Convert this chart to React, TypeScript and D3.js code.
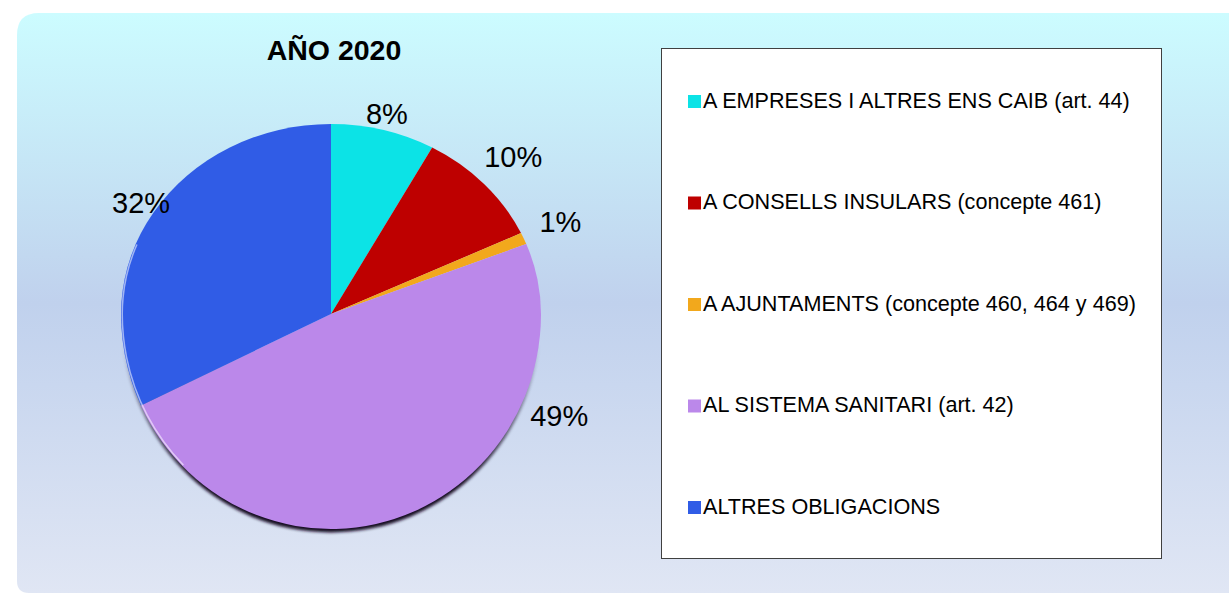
import React, { useRef, useEffect } from "react";
import * as d3 from "d3";

// chart data
const title = "AÑO 2020";
const categories = [
	"A EMPRESES I ALTRES ENS CAIB (art. 44)",
	"A CONSELLS INSULARS (concepte 461)",
	"A AJUNTAMENTS (concepte 460, 464 y 469)",
	"AL SISTEMA SANITARI (art. 42)",
	"ALTRES OBLIGACIONS",
];
const shares = [8, 10, 1, 49, 32];
const labels = ["8%", "10%", "1%", "49%", "32%"];
const colors = ["#0CE3E6", "#BE0000", "#F2A81C", "#BB88EA", "#305CE6"];

const W = 1229;
const H = 594;

const App = () => {
	const svgRef = useRef(null);

	useEffect(() => {
		document.body.style.margin = "0";
		const svg = d3.select(svgRef.current);
		svg.selectChildren().remove();
		const font = "'Liberation Sans', Arial, sans-serif";

		const defs = svg.append("defs");
		const bg = defs.append("linearGradient")
			.attr("id", "bg").attr("x1", 0).attr("y1", 0).attr("x2", 0).attr("y2", 1);
		bg.append("stop").attr("offset", "0%").attr("stop-color", "#CCFCFF");
		bg.append("stop").attr("offset", "50%").attr("stop-color", "#C0D1ED");
		bg.append("stop").attr("offset", "100%").attr("stop-color", "#E0E6F4");
		defs.append("filter").attr("id", "blur")
			.append("feGaussianBlur").attr("stdDeviation", 1.8);
		defs.append("clipPath").attr("id", "topHalf")
			.append("rect").attr("x", -300).attr("y", -300).attr("width", 600).attr("height", 300);
		defs.append("clipPath").attr("id", "botHalf")
			.append("rect").attr("x", -300).attr("y", 0).attr("width", 600).attr("height", 300);
		// fade the rim in towards the bottom of the pie
		const fade = defs.append("linearGradient")
			.attr("id", "fade").attr("gradientUnits", "userSpaceOnUse")
			.attr("x1", 0).attr("y1", 30).attr("x2", 0).attr("y2", 170);
		fade.append("stop").attr("offset", "0%").attr("stop-color", "#fff").attr("stop-opacity", 0);
		fade.append("stop").attr("offset", "100%").attr("stop-color", "#fff").attr("stop-opacity", 1);
		defs.append("mask").attr("id", "rimMask").attr("maskUnits", "userSpaceOnUse")
			.attr("x", -300).attr("y", -300).attr("width", 600).attr("height", 600)
			.append("rect").attr("x", -300).attr("y", -300).attr("width", 600).attr("height", 600)
			.attr("fill", "url(#fade)");

		// background panel
		svg.append("path")
			.attr("fill", "url(#bg)")
			.attr("d", `M17,${13 + 22} Q17,13 ${17 + 22},13 L${W + 30},13 L${W + 30},${H - 1} L${17 + 12},${H - 1} Q17,${H - 1} 17,${H - 13} Z`);

		// title
		svg.append("text")
			.attr("x", 334).attr("y", 52)
			.attr("text-anchor", "middle").attr("dominant-baseline", "middle")
			.style("font-family", font).style("font-size", "28.5px").style("font-weight", "bold")
			.text(title);

		// pie
		const cx = 331, cy = 314, r = 210;
		const ryTop = 190, ryBot = 215;
		const pie = d3.pie().sort(null).value(d => d);
		const arcs = pie(shares);
		const arc = d3.arc().innerRadius(0).outerRadius(r);
		const full = d3.arc().innerRadius(0).outerRadius(r).startAngle(0).endAngle(2 * Math.PI);

		const pg = svg.append("g").attr("transform", `translate(${cx},${cy})`);

		// dark rim under the pie
		pg.append("g").attr("mask", "url(#rimMask)")
			.append("path")
			.attr("transform", `translate(0,3.5) scale(1,${ryBot / r})`)
			.attr("d", full())
			.attr("fill", "#140a24")
			.attr("filter", "url(#blur)");

		const halves = [["topHalf", ryTop], ["botHalf", ryBot]];
		halves.forEach(([clip, ry]) => {
			const g = pg.append("g").attr("clip-path", `url(#${clip})`)
				.append("g").attr("transform", `scale(1,${ry / r})`);
			g.selectAll("path.slice")
				.data(arcs)
				.join("path")
				.attr("class", "slice")
				.attr("d", arc)
				.attr("fill", (d, i) => colors[i]);
		});

		// light highlight on the left edge
		const hl = d3.arc().innerRadius(r - 2).outerRadius(r - 0.5)
			.startAngle(Math.PI * 1.25).endAngle(Math.PI * 1.62);
		pg.append("g").attr("clip-path", "url(#botHalf)")
			.append("path").attr("transform", `scale(1,${ryBot / r})`)
			.attr("d", hl()).attr("fill", "#ffffff").attr("opacity", 0.55);
		pg.append("g").attr("clip-path", "url(#topHalf)")
			.append("path").attr("transform", `scale(1,${ryTop / r})`)
			.attr("d", hl()).attr("fill", "#ffffff").attr("opacity", 0.55);

		// percentage labels
		const labelLayout = [
			{ rad: 225 },
			{ rad: 250 },
			{ rad: 250 },
			{ rad: 250, angle: 0.317 * 2 * Math.PI },
			{ rad: 225 },
		];
		arcs.forEach((d, i) => {
			const lay = labelLayout[i];
			const a = lay.angle !== undefined ? lay.angle : (d.startAngle + d.endAngle) / 2;
			const lx = lay.rad * Math.sin(a);
			const cosA = Math.cos(a);
			const ly = -lay.rad * cosA * (cosA > 0 ? ryTop / r : ryBot / r);
			pg.append("text")
				.attr("x", lx).attr("y", ly)
				.attr("text-anchor", "middle").attr("dominant-baseline", "middle")
				.style("font-family", font).style("font-size", "29px")
				.text(labels[i]);
		});

		// legend
		const lg = svg.append("g");
		lg.append("rect")
			.attr("x", 661.5).attr("y", 48.5).attr("width", 500).attr("height", 510)
			.attr("fill", "#ffffff").attr("stroke", "#404040").attr("stroke-width", 1);
		const ly = d3.scalePoint().domain(categories).range([101, 507]);
		categories.forEach((c, i) => {
			lg.append("rect")
				.attr("x", 688).attr("y", ly(c) - 6).attr("width", 13).attr("height", 13)
				.attr("fill", colors[i]);
			lg.append("text")
				.attr("x", 703).attr("y", ly(c) + 1)
				.attr("dominant-baseline", "middle")
				.style("font-family", font).style("font-size", "21.6px")
				.text(c);
		});
	});

	return (
		<div style={{ position: "absolute", left: 0, top: 0 }}>
			<svg ref={svgRef} width={W} height={H} style={{ display: "block" }}></svg>
		</div>
	);
};

export default App;
